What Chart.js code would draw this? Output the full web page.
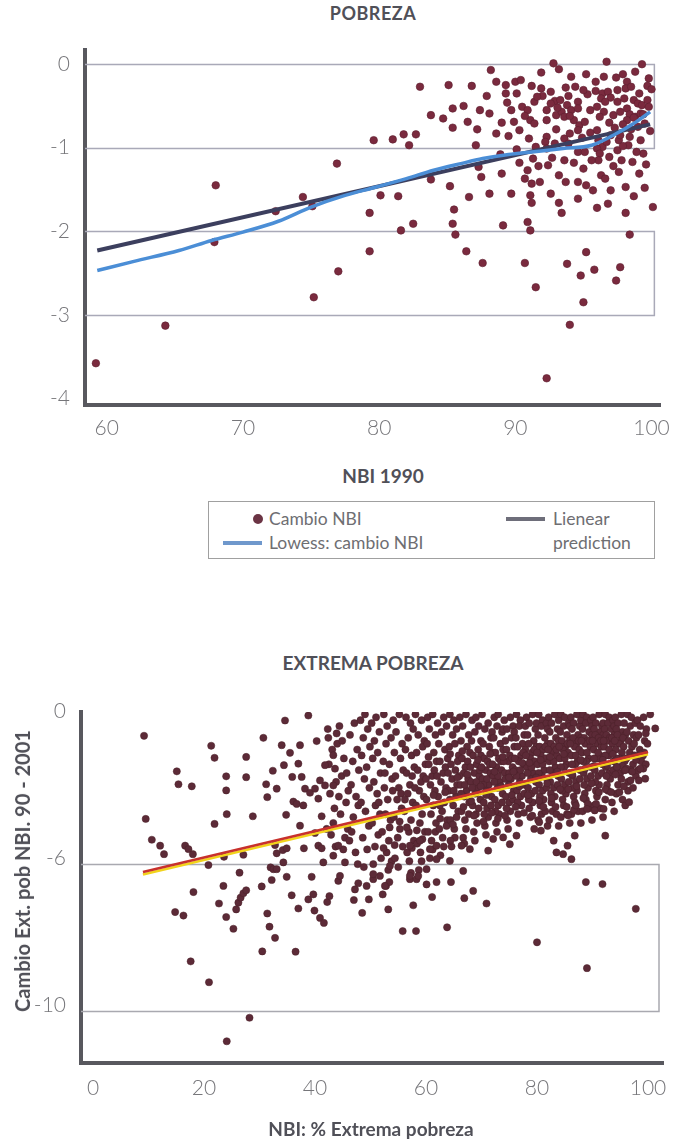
<!DOCTYPE html>
<html lang="es">
<head>
<meta charset="utf-8">
<title>Cambio NBI 1990 - 2001</title>
<script src="https://cdn.jsdelivr.net/npm/chart.js@4.4.1/dist/chart.umd.min.js"></script>
<style>
  html, body { margin: 0; padding: 0; background: #fff; }
  body { width: 681px; height: 1143px; position: relative; overflow: hidden;
         font-family: Lato, "Open Sans", sans-serif; color: #4a4a52; }
  canvas { position: absolute; left: 0; }
  #cTop { top: 0; }
  #cExt { top: 640px; }
  .ttl { position: absolute; transform: translate(-50%, -50%); white-space: nowrap;
         font-weight: 700; color: #505058; }
  #legend { position: absolute; left: 208px; top: 501px; width: 447px; height: 58px;
            border: 1px solid #a0a0a0; box-sizing: border-box; }
  .lg { position: absolute; font-size: 17.5px; color: #6e6e72; white-space: nowrap;
        transform: translateY(-50%); line-height: 1; }
  .sw { position: absolute; height: 4px; transform: translateY(-50%); }
  .dot { position: absolute; width: 10px; height: 10px; border-radius: 50%;
         background: #6b3444; transform: translate(-50%, -50%); }
  #ytitle { position: absolute; left: 22px; top: 871px; transform: translate(-50%, -50%) rotate(-90deg);
            white-space: nowrap; font-size: 20px; font-weight: 700; color: #505058; }
</style>
</head>
<body>
<div class="ttl" style="left:373px;top:13px;font-size:18px;letter-spacing:0.5px">POBREZA</div>
<canvas id="cTop" width="681" height="445"></canvas>
<div class="ttl" style="left:383px;top:475px;font-size:19px">NBI 1990</div>

<div id="legend">
  <div class="dot" style="left:49px;top:17px"></div>
  <div class="lg" style="left:60px;top:17px">Cambio NBI</div>
  <div class="sw" style="left:14px;top:41px;width:39px;background:#6f98cc"></div>
  <div class="lg" style="left:60px;top:41px">Lowess: cambio NBI</div>
  <div class="sw" style="left:297px;top:17px;width:39px;background:#6e6e7a"></div>
  <div class="lg" style="left:344px;top:17px">Lienear</div>
  <div class="lg" style="left:344px;top:41px">prediction</div>
</div>

<div class="ttl" style="left:373px;top:662px;font-size:19px">EXTREMA POBREZA</div>
<canvas id="cExt" width="681" height="503"></canvas>
<div id="ytitle">Cambio Ext. pob NBI. 90 - 2001</div>
<div class="ttl" style="left:371px;top:1128px;font-size:19px">NBI: % Extrema pobreza</div>

<script>
// ---------- Pobreza: NBI 1990 vs. cambio NBI ----------
const topXTicks = [60, 70, 80, 90, 100];
const topYTicks = [0, -1, -2, -3, -4];
const topYLabels = ['0', '-1', '-2', '-3', '-4'];
const topBands = [[0, -1], [-2, -3]];

const nbiChange = [
  [92.8,0.01],[93.2,-0.06],[96.7,0.03],[99.3,0.0],[88.2,-0.07],[98.8,-0.09],[99.8,-0.17],[99.7,-0.26],
  [97.4,-0.16],[83.0,-0.27],[85.1,-0.25],[86.8,-0.26],[89.3,-0.25],[90.0,-0.21],[90.4,-0.19],[91.2,-0.26],
  [91.9,-0.29],[92.6,-0.33],[95.9,-0.21],[95.9,-0.32],[98.2,-0.21],[98.1,-0.29],[97.5,-0.31],[87.9,-0.38],
  [89.3,-0.35],[90.1,-0.35],[91.4,-0.45],[92.9,-0.44],[93.3,-0.43],[94.6,-0.45],[95.3,-0.36],[96.4,-0.35],
  [96.8,-0.33],[97.0,-0.40],[96.3,-0.41],[96.6,-0.45],[97.5,-0.45],[98.0,-0.41],[98.7,-0.43],[99.0,-0.47],
  [99.3,-0.49],[99.7,-0.43],[99.8,-0.51],[90.5,-0.51],[90.9,-0.55],[89.7,-0.55],[86.2,-0.50],[85.4,-0.53],
  [83.8,-0.61],[84.7,-0.65],[85.4,-0.76],[88.1,-0.59],[89.0,-0.70],[89.9,-0.69],[90.3,-0.79],[91.1,-0.67],
  [91.4,-0.71],[92.3,-0.55],[92.3,-0.67],[93.0,-0.61],[93.4,-0.57],[93.8,-0.49],[94.1,-0.55],[94.6,-0.53],
  [93.6,-0.63],[94.3,-0.67],[94.7,-0.73],[95.1,-0.69],[96.0,-0.51],[96.5,-0.57],[97.2,-0.61],[97.7,-0.57],
  [98.2,-0.53],[98.4,-0.60],[98.8,-0.63],[99.2,-0.59],[98.2,-0.67],[98.7,-0.64],[99.4,-0.60],[87.2,-0.78],
  [87.1,-0.97],[88.6,-0.83],[89.5,-0.86],[91.0,-0.89],[92.3,-0.87],[92.2,-0.93],[92.9,-0.95],[93.6,-0.89],
  [94.0,-0.83],[94.6,-0.79],[96.0,-0.79],[96.1,-0.91],[96.4,-0.99],[96.7,-0.93],[97.0,-0.85],[97.6,-0.91],
  [97.7,-0.85],[98.4,-0.87],[98.3,-0.97],[99.2,-0.91],[79.6,-0.91],[81.0,-0.90],[81.8,-0.84],[82.2,-0.97],
  [82.7,-0.84],[91.5,-0.99],[92.3,-1.01],[94.6,-1.05],[95.1,-1.05],[96.0,-1.01],[96.2,-1.07],[96.9,-1.11],
  [97.5,-1.03],[99.4,-1.07],[87.3,-1.23],[87.5,-1.35],[89.0,-1.31],[90.3,-1.18],[90.9,-1.27],[90.7,-1.37],
  [91.2,-1.43],[91.3,-1.13],[91.8,-1.41],[92.4,-1.21],[93.2,-1.33],[93.7,-1.41],[93.6,-1.15],[94.3,-1.18],
  [94.6,-1.41],[94.6,-1.61],[95.2,-1.45],[95.7,-1.51],[96.1,-1.15],[96.3,-1.33],[96.6,-1.37],[97.0,-1.51],
  [96.8,-1.67],[97.6,-1.29],[97.8,-1.15],[98.1,-1.47],[99.1,-1.31],[83.8,-1.38],[85.2,-1.46],[86.6,-1.59],
  [88.1,-1.55],[91.1,-1.57],[91.2,-1.66],[80.1,-1.57],[81.4,-1.58],[79.3,-1.78],[85.5,-1.74],[93.4,-1.78],
  [98.1,-1.78],[100.1,-1.71],[82.5,-1.91],[81.6,-1.99],[85.4,-1.91],[85.6,-2.04],[89.1,-1.93],[90.9,-1.89],
  [91.1,-1.99],[98.4,-2.04],[79.3,-2.24],[86.4,-2.24],[87.6,-2.38],[90.7,-2.38],[91.5,-2.67],[92.3,-3.76],
  [93.8,-2.39],[94.0,-3.12],[94.8,-2.53],[95.0,-2.85],[95.2,-2.25],[95.8,-2.46],[97.4,-2.59],[97.7,-2.43],
  [68.0,-1.45],[72.4,-1.76],[74.4,-1.59],[75.1,-1.70],[76.9,-1.19],[59.2,-3.58],[64.3,-3.13],[67.9,-2.13],
  [75.2,-2.79],[77.0,-2.48],
  [92.0,-0.38],[92.6,-0.47],[93.1,-0.52],[93.9,-0.38],[94.4,-0.27],[95.0,-0.31],[95.5,-0.55],[96.2,-0.63],
  [96.9,-0.70],[97.3,-0.76],[97.9,-0.72],[98.5,-0.78],[99.0,-0.75],[99.5,-0.71],[99.1,-0.35],[98.5,-0.27],
  [97.9,-0.12],[95.2,-0.12],[94.1,-0.15],[93.7,-0.28],[91.6,-0.39],[90.7,-0.62],[89.4,-0.46],[88.6,-0.21],
  [87.4,-0.55],[86.5,-0.69],[93.0,-0.78],[93.9,-0.95],[94.9,-0.88],[95.5,-0.82],[95.6,-1.15],[95.0,-1.25],
  [97.2,-1.22],[98.6,-1.17],[99.6,-1.20],[98.9,-1.05],[97.9,-0.98],[92.7,-1.12],[91.7,-1.22],[90.1,-1.02],
  [88.9,-1.08],[89.7,-1.55],[92.6,-1.55],[93.2,-1.66],[96.0,-1.72],[98.7,-1.58],[99.5,-1.48],[99.9,-0.80],
  [100.0,-0.30],[96.5,-0.15],[94.0,-0.62],[91.9,-0.10]
];

const lowessNbi = [
  [59.3,-2.47],[62.0,-2.36],[65.3,-2.23],[67.7,-2.11],[70.0,-2.01],[72.6,-1.88],[75.0,-1.71],[77.5,-1.57],
  [79.8,-1.47],[82.0,-1.37],[84.0,-1.27],[86.0,-1.19],[87.6,-1.13],[89.5,-1.08],[91.2,-1.05],[93.5,-1.01],
  [95.6,-0.97],[97.2,-0.85],[98.6,-0.72],[99.9,-0.57]
];
const linearNbi = [[59.3,-2.23],[99.9,-0.72]];

// ---------- Extrema pobreza ----------
const extXTicks = [0, 20, 40, 60, 80, 100];
const extYTicks = [0, -5, -10];
const extYLabels = ['0', '-6', '-10'];
const extBands = [[-5, -10]];

const extSparse = [
  [9.2,-0.63],[9.5,-3.46],[10.6,-4.17],[12.1,-4.37],[12.8,-4.66],[15.1,-1.84],[15.4,-2.28],[17.8,-2.35],
  [16.6,-4.37],[17.2,-4.49],[18.0,-4.66],[18.1,-5.95],[20.8,-5.03],[21.3,-0.97],[21.9,-1.38],[21.9,-3.63],
  [23.6,-4.75],[23.5,-5.74],[24.0,-2.01],[24.0,-2.49],[24.1,-3.30],[26.4,-5.29],[27.6,-1.35],[27.6,-2.04],
  [27.1,-4.68],[28.8,-3.37],[30.7,-0.70],[31.2,-2.28],[31.4,-2.72],[32.4,-1.82],[33.1,-2.43],[30.4,-5.76],
  [32.0,-5.11],[32.5,-5.17],[33.1,-5.17],[32.2,-5.54],[32.8,-4.35],[33.1,-4.63],[34.0,-0.95],[34.4,-1.63],
  [34.6,-0.11],[34.8,-3.32],[34.2,-4.52],[34.9,-4.46],[34.3,-4.94],[34.9,-5.43],[35.5,-1.21],[35.9,-2.03],
  [36.1,-2.87],[37.0,-1.58],[37.3,-0.95],[37.6,-2.03],[36.7,-2.95],[38.8,0.06],[38.2,-2.43],[39.1,-2.57],
  [37.9,-3.0],[37.3,-3.69],[38.0,-4.46],[39.4,-5.43],[40.3,-0.81],[41.8,-1.63],[40.9,-2.15],[41.8,-2.32],
  [40.0,-2.43],[40.6,-2.77],[41.2,-3.37],[42.1,-3.80],[40.6,-4.37],[41.2,-4.46],[40.0,-3.94],[41.5,-4.94],
  [42.4,-0.70],[43.9,-0.55],[43.3,-1.29],[43.6,-1.75],[43.3,-2.32],
  [14.8,-6.63],[16.3,-6.75],[17.6,-8.31],[20.9,-9.02],[22.7,-6.34],[24.0,-6.80],[25.3,-7.20],[25.8,-6.54],
  [26.2,-6.31],[26.6,-6.14],[27.1,-5.99],[27.6,-5.89],[28.2,-10.23],[24.1,-11.03],[30.5,-7.97],[31.4,-6.68],
  [31.8,-7.13],[32.8,-7.51],[35.8,-6.06],[37.0,-6.51],[36.5,-7.98],[38.8,-6.20],[39.7,-6.03],[39.9,-6.58],
  [40.9,-6.83],[41.6,-7.0],[42.2,-6.29],[42.6,-6.09],[44.2,-5.57],
  [47.0,-6.22],[47.8,-5.65],[48.5,-6.66],[49.7,-6.20],[50.5,-5.51],[52.2,-6.03],[52.8,-5.74],[53.4,-5.61],
  [53.2,-6.54],[55.8,-7.28],[58.2,-7.28],[57.7,-6.40],[57.1,-5.51],[58.3,-5.51],[60.1,-5.69],[61.9,-5.61],
  [61.1,-6.12],[63.8,-7.15],[64.5,-5.61],[66.9,-6.16],[68.5,-5.91],[70.9,-6.34],[80.0,-7.66],[88.8,-5.61],
  [91.8,-5.68],[89.0,-8.54],[97.8,-6.52],
  [86.2,-4.83],[83.5,-4.60],[84.7,-4.66],[85.5,-4.37],[83.0,-4.20],[86.8,-4.03],[92.3,-4.03],[96.6,-2.89],
  [99.5,-2.09],[98.6,-1.75],[95.9,-1.80],[94.4,-1.69],[100.4,0.1],[101.3,-0.38],[99.6,-0.55],[92.0,-3.12],
  [90.4,-3.17],[89.0,-3.12],[87.0,-3.0],[85.6,-3.34],[80.7,-3.86],[79.5,-3.80],[80.4,-3.57],[75.1,-4.32],
  [76.3,-4.03],[73.9,-4.09],[72.1,-4.14],[71.2,-4.54],[67.9,-4.49],[66.4,-4.37],[64.4,-4.20],[61.9,-4.37],
  [60.7,-4.49],[58.9,-4.20],[57.1,-4.37],[57.1,-5.40],[58.6,-5.40],[61.9,-4.83],[60.1,-5.17],[64.3,-4.89],
  [66.7,-5.23],[53.5,-5.06],[51.7,-5.40],[52.6,-5.74],[47.2,-5.86],[49.3,-5.74],[50.5,-5.34],[44.5,-5.40],
  [45.4,-4.94],[43.3,-4.71],[44.2,-4.37]
];

const extCloud = [
  [42.3,-0.4],[43.1,-1.1],[42.7,-2.6],[43.5,-3.1],[42.9,-4.0],[43.8,-2.2],[43.3,-3.6],[44.0,-0.9],[43.7,-4.4],[42.5,-1.6],
  [44.4,-0.3],[45.2,-1.4],[44.8,-2.0],[45.6,-2.9],[44.6,-3.3],[45.9,-3.8],[45.1,-4.5],[44.9,-0.8],[45.7,-1.9],[46.0,-2.5],[44.3,-2.7],[45.4,-4.1],
  [46.3,-0.6],[47.1,-0.2],[46.8,-1.5],[47.6,-1.1],[46.5,-2.3],[47.4,-2.7],[46.9,-3.4],[47.8,-3.0],[46.2,-4.2],[47.3,-4.6],[47.9,-1.8],[46.6,-3.9],[47.7,-5.0],
  [48.2,-0.1],[49.0,0.1],[48.7,-0.7],[49.5,-0.4],[48.4,-1.3],[49.3,-1.7],[48.9,-2.1],[49.8,-2.4],[48.3,-2.9],[49.1,-3.2],[49.7,-3.7],[48.6,-4.1],[49.4,-4.5],[48.8,-5.1],[49.9,-1.0],
  [50.2,-0.2],[51.0,0.0],[50.7,-0.8],[51.6,-0.5],[50.4,-1.4],[51.3,-1.2],[51.8,-1.9],[50.6,-2.2],[51.2,-2.6],[50.9,-3.0],[51.7,-3.3],[50.3,-3.6],[51.4,-4.0],[50.8,-4.4],[51.9,-4.8],[50.5,-5.0],[51.5,-2.9],
  [52.4,0.1],[53.0,-0.3],[52.8,-0.9],[53.7,-0.7],[52.3,-1.5],[53.4,-1.6],[53.9,-2.1],[52.5,-2.4],[53.1,-2.8],[52.7,-3.3],[53.6,-3.5],[52.1,-3.9],[53.3,-4.2],[52.9,-4.6],[53.8,-4.9],[52.6,-1.9],[53.2,-5.2],
  [54.1,-0.1],[55.2,0.1],[54.6,-0.5],[55.7,-0.9],[54.3,-1.2],[55.4,-1.4],[55.9,-1.8],[54.5,-2.0],[55.1,-2.4],[54.8,-2.8],[55.6,-3.1],[54.2,-3.4],[55.3,-3.8],[54.9,-4.1],[55.8,-4.4],[54.4,-4.8],[55.0,-5.1],[55.5,-2.6],[54.0,-2.5],
  [56.4,0.0],[57.2,-0.2],[56.8,-0.7],[57.7,-0.4],[56.3,-1.1],[57.4,-1.3],[57.9,-1.7],[56.5,-1.9],[57.1,-2.3],[56.7,-2.6],[57.6,-2.9],[56.1,-3.2],[57.3,-3.5],[56.9,-3.9],[57.8,-4.2],[56.6,-4.6],[57.0,-4.9],[57.5,-2.0],[56.2,-2.8],[57.3,-5.3],
  [58.1,0.1],[59.2,-0.1],[58.6,-0.6],[59.7,-0.8],[58.3,-1.2],[59.4,-1.0],[59.9,-1.6],[58.5,-1.8],[59.1,-2.2],[58.8,-2.5],[59.6,-2.7],[58.2,-3.0],[59.3,-3.3],[58.9,-3.6],[59.8,-3.9],[58.4,-4.3],[59.0,-4.6],[59.5,-2.0],[58.0,-2.4],[59.2,-4.9],[58.7,-5.2],
  [60.3,0.0],[61.2,0.1],[60.6,-0.4],[61.7,-0.6],[60.2,-0.9],[61.4,-1.2],[61.9,-1.5],[60.5,-1.6],[61.1,-2.0],[60.8,-2.3],[61.6,-2.5],[60.1,-2.8],[61.3,-3.0],[60.9,-3.3],[61.8,-3.6],[60.4,-3.9],[61.0,-4.2],[61.5,-1.8],[60.0,-2.1],[61.2,-4.5],[60.7,-4.8],[61.7,-3.9],
  [62.1,-0.2],[63.2,0.0],[62.8,-0.5],[63.7,-0.3],[62.3,-0.9],[63.4,-1.1],[63.9,-1.4],[62.5,-1.5],[63.1,-1.9],[62.7,-2.2],[63.6,-2.4],[62.2,-2.7],[63.3,-2.9],[62.9,-3.2],[63.8,-3.5],[62.4,-3.8],[63.0,-4.1],[63.5,-1.7],[62.0,-2.0],[63.2,-4.4],[62.6,-4.7],[63.7,-3.7],[62.5,-3.0],
  [64.3,0.1],[65.0,-0.1],[64.8,-0.6],[65.5,-0.4],[64.2,-1.0],[65.2,-0.9],[65.9,-1.3],[64.5,-1.6],[65.3,-1.8],[64.7,-2.1],[65.6,-2.3],[64.1,-2.5],[65.4,-2.7],[64.9,-3.0],[65.8,-3.2],[64.4,-3.5],[65.1,-3.8],[65.7,-1.5],[64.0,-1.9],[65.2,-4.1],[64.6,-4.4],[65.5,-3.4],[64.3,-2.8],[65.0,-2.5],
  [66.1,0.0],[67.2,0.1],[66.6,-0.3],[67.7,-0.6],[66.3,-0.8],[67.4,-1.0],[67.9,-1.2],[66.5,-1.4],[67.1,-1.7],[66.8,-1.9],[67.6,-2.1],[66.2,-2.3],[67.3,-2.5],[66.9,-2.7],[67.8,-2.9],[66.4,-3.2],[67.0,-3.5],[67.5,-1.5],[66.0,-2.0],[67.2,-3.8],[66.7,-4.1],[67.7,-3.3],[66.3,-2.6],[67.0,-2.3],[66.9,-4.3],
  [68.3,-0.1],[69.0,0.0],[68.8,-0.5],[69.5,-0.3],[68.2,-0.8],[69.4,-1.1],[69.9,-1.3],[68.5,-1.3],[69.1,-1.6],[68.7,-1.9],[69.6,-2.0],[68.1,-2.2],[69.3,-2.4],[68.9,-2.6],[69.8,-2.8],[68.4,-3.0],[69.0,-3.3],[69.7,-1.8],[68.0,-1.7],[69.2,-3.6],[68.6,-3.9],[69.5,-3.1],[68.3,-2.4],[69.1,-2.2],[68.8,-4.2],[69.9,-0.8],
  [70.1,0.1],[71.2,-0.2],[70.6,-0.4],[71.7,-0.7],[70.3,-0.9],[71.4,-1.0],[71.9,-1.2],[70.5,-1.4],[71.1,-1.5],[70.8,-1.8],[71.6,-1.9],[70.2,-2.1],[71.3,-2.3],[70.9,-2.5],[71.8,-2.7],[70.4,-2.9],[71.0,-3.1],[71.5,-1.6],[70.0,-1.7],[71.2,-3.4],[70.6,-3.7],[71.7,-3.0],[70.3,-2.3],[71.0,-2.1],[70.8,-4.0],[71.9,-0.5],[70.5,-3.3],
  [72.3,0.0],[73.0,0.1],[72.8,-0.3],[73.7,-0.5],[72.2,-0.7],[73.4,-0.9],[73.9,-1.1],[72.5,-1.2],[73.1,-1.4],[72.7,-1.7],[73.6,-1.8],[72.1,-2.0],[73.3,-2.2],[72.9,-2.4],[73.8,-2.6],[72.4,-2.8],[73.0,-3.0],[73.5,-1.5],[72.0,-1.6],[73.2,-3.3],[72.6,-3.6],[73.7,-2.9],[72.3,-2.2],[73.0,-2.0],[72.8,-3.9],[73.9,-0.4],[72.5,-3.2],
  [74.1,-0.1],[75.2,0.0],[74.6,-0.4],[75.7,-0.3],[74.3,-0.8],[75.4,-0.7],[75.9,-1.0],[74.5,-1.1],[75.1,-1.3],[74.8,-1.5],[75.6,-1.7],[74.2,-1.9],[75.3,-2.1],[74.9,-2.3],[75.8,-2.5],[74.4,-2.7],[75.0,-2.9],[75.5,-1.4],[74.0,-1.5],[75.2,-3.2],[74.6,-3.5],[75.7,-2.8],[74.3,-2.1],[75.0,-1.9],[74.8,-3.8],[75.9,-0.5],[74.5,-3.1],
  [76.3,0.1],[77.0,-0.1],[76.8,-0.3],[77.7,-0.6],[76.2,-0.7],[77.4,-0.9],[77.9,-1.1],[76.5,-1.0],[77.1,-1.3],[76.7,-1.5],[77.6,-1.6],[76.1,-1.8],[77.3,-2.0],[76.9,-2.2],[77.8,-2.3],[76.4,-2.5],[77.0,-2.7],[77.5,-1.2],[76.0,-1.4],[77.2,-3.0],[76.6,-3.3],[77.7,-2.6],[76.3,-2.0],[77.0,-1.8],[76.8,-3.6],[77.9,-0.3],[76.5,-2.9],
  [78.1,0.0],[79.2,0.1],[78.6,-0.2],[79.7,-0.4],[78.3,-0.6],[79.4,-0.8],[79.9,-1.0],[78.5,-0.9],[79.1,-1.2],[78.8,-1.4],[79.6,-1.5],[78.2,-1.7],[79.3,-1.9],[78.9,-2.1],[79.8,-2.2],[78.4,-2.4],[79.0,-2.6],[79.5,-1.1],[78.0,-1.3],[79.2,-2.9],[78.6,-3.1],[79.7,-2.5],[78.3,-1.9],[79.0,-1.7],[78.8,-3.4],[79.9,-0.2],[78.5,-2.8],
  [80.3,0.1],[81.0,-0.1],[80.8,-0.3],[81.7,-0.2],[80.2,-0.6],[81.4,-0.7],[81.9,-0.9],[80.5,-1.0],[81.1,-1.1],[80.7,-1.3],[81.6,-1.4],[80.1,-1.6],[81.3,-1.8],[80.9,-2.0],[81.8,-2.1],[80.4,-2.3],[81.0,-2.5],[81.5,-1.0],[80.0,-1.2],[81.2,-2.8],[80.6,-3.0],[81.7,-2.4],[80.3,-1.9],[81.0,-1.6],[80.8,-3.3],[81.9,-0.4],[80.5,-2.7],[80.2,-3.5],[81.5,-3.2],[81.9,-3.7],
  [82.1,0.0],[83.2,0.1],[82.6,-0.2],[83.7,-0.4],[82.3,-0.5],[83.4,-0.7],[83.9,-0.8],[82.5,-0.9],[83.1,-1.0],[82.8,-1.2],[83.6,-1.3],[82.2,-1.5],[83.3,-1.7],[82.9,-1.9],[83.8,-2.0],[82.4,-2.2],[83.0,-2.4],[83.5,-1.1],[82.0,-1.1],[83.2,-2.7],[82.6,-2.9],[83.7,-2.3],[82.3,-1.8],[83.0,-1.5],[82.8,-3.2],[83.9,-0.1],[82.5,-2.6],[82.2,-3.5],[83.5,-3.3],[83.9,-3.7],
  [84.3,0.1],[85.0,0.0],[84.8,-0.3],[85.7,-0.2],[84.2,-0.5],[85.4,-0.6],[85.9,-0.8],[84.5,-0.8],[85.1,-1.0],[84.7,-1.1],[85.6,-1.2],[84.1,-1.4],[85.3,-1.6],[84.9,-1.7],[85.8,-1.9],[84.4,-2.1],[85.0,-2.3],[85.5,-0.9],[84.0,-1.0],[85.2,-2.6],[84.6,-2.8],[85.7,-2.2],[84.3,-1.7],[85.0,-1.4],[84.8,-3.0],[85.9,-0.3],[84.5,-2.5],[84.3,-3.4],[85.4,-3.3],[85.9,-3.6],
  [86.1,0.0],[87.2,0.1],[86.6,-0.2],[87.7,-0.3],[86.3,-0.4],[87.4,-0.6],[87.9,-0.7],[86.5,-0.7],[87.1,-0.9],[86.8,-1.0],[87.6,-1.1],[86.2,-1.3],[87.3,-1.5],[86.9,-1.6],[87.8,-1.8],[86.4,-2.0],[87.0,-2.2],[87.5,-0.8],[86.0,-0.9],[87.2,-2.5],[86.6,-2.7],[87.7,-2.1],[86.3,-1.6],[87.0,-1.3],[86.8,-2.9],[87.9,-0.1],[86.5,-2.4],[86.2,-3.3],[87.4,-3.2],[87.9,-3.6],
  [88.3,0.1],[89.0,0.0],[88.8,-0.2],[89.7,-0.1],[88.2,-0.4],[89.4,-0.5],[89.9,-0.6],[88.5,-0.7],[89.1,-0.8],[88.7,-0.9],[89.6,-1.0],[88.1,-1.2],[89.3,-1.4],[88.9,-1.5],[89.8,-1.7],[88.4,-1.9],[89.0,-2.1],[89.5,-0.8],[88.0,-0.8],[89.2,-2.4],[88.6,-2.6],[89.7,-2.0],[88.3,-1.5],[89.0,-1.2],[88.8,-2.8],[89.9,-0.3],[88.5,-2.3],[88.2,-3.2],[89.4,-3.1],[89.9,-3.5],
  [90.1,0.0],[91.2,0.1],[90.6,-0.2],[91.7,-0.3],[90.3,-0.4],[91.4,-0.5],[91.9,-0.6],[90.5,-0.6],[91.1,-0.7],[90.8,-0.9],[91.6,-1.0],[90.2,-1.1],[91.3,-1.3],[90.9,-1.4],[91.8,-1.6],[90.4,-1.8],[91.0,-2.0],[91.5,-0.8],[90.0,-0.8],[91.2,-2.3],[90.6,-2.5],[91.7,-1.9],[90.3,-1.4],[91.0,-1.2],[90.8,-2.7],[91.9,-0.2],[90.5,-2.2],[90.3,-3.0],[91.4,-3.1],[91.9,-3.4],
  [92.3,0.1],[93.0,0.0],[92.8,-0.2],[93.7,-0.1],[92.2,-0.4],[93.4,-0.4],[93.9,-0.6],[92.5,-0.6],[93.1,-0.7],[92.7,-0.8],[93.6,-0.9],[92.1,-1.0],[93.3,-1.2],[92.9,-1.3],[93.8,-1.5],[92.4,-1.7],[93.0,-1.9],[93.5,-0.7],[92.0,-0.8],[93.2,-2.1],[92.6,-2.3],[93.7,-1.8],[92.3,-1.3],[93.0,-1.1],[92.8,-2.5],[93.9,-0.3],[92.5,-2.0],[92.3,-2.8],[93.5,-2.9],[93.9,-3.2],
  [94.1,0.0],[95.2,0.1],[94.6,-0.2],[95.7,-0.2],[94.3,-0.4],[95.4,-0.5],[95.9,-0.6],[94.5,-0.6],[95.1,-0.8],[94.8,-0.9],[95.6,-1.0],[94.2,-1.1],[95.3,-1.2],[94.9,-1.4],[95.8,-1.5],[94.4,-1.7],[95.0,-1.9],[95.5,-0.7],[94.0,-0.8],[95.2,-2.1],[94.6,-2.3],[95.7,-1.8],[94.3,-1.4],[94.3,-2.6],[95.4,-2.8],[95.9,-3.0],
  [96.3,0.1],[97.0,0.0],[96.8,-0.3],[97.7,-0.2],[96.2,-0.5],[97.4,-0.6],[97.9,-0.7],[96.5,-0.8],[97.1,-1.0],[96.7,-1.2],[97.6,-1.3],[96.1,-1.4],[97.3,-1.6],[96.9,-1.8],[97.8,-2.0],[96.4,-2.2],[97.5,-0.9],[96.4,-2.5],[97.3,-2.4],
  [98.1,-0.1],[99.2,0.0],[98.6,-0.3],[99.7,-0.4],[98.3,-0.6],[99.4,-0.8],[99.9,-0.9],[98.5,-1.1],[99.1,-1.3],[98.8,-1.5],[99.6,-1.6],[98.2,-1.8],[99.3,-1.2]
];

// denser core of the cloud
const extCore = [
  [60.45,-1.35],[61.35,-2.65],[62.55,-3.45],[63.45,-2.55],[64.35,-1.25],[64.85,-3.65],[65.65,-2.05],[66.55,-1.15],
  [66.75,-3.05],[67.45,-1.95],[68.15,-2.85],[68.65,-3.35],[69.35,-1.45],[69.85,-2.35],[70.35,-3.55],[70.85,-2.65],
  [71.55,-1.25],[71.85,-3.25],[72.35,-1.85],[72.95,-3.45],[73.55,-2.35],[73.85,-1.35],[74.25,-3.35],[74.95,-2.05],
  [75.45,-2.65],[75.75,-1.85],[76.15,-3.05],[76.85,-2.35],[77.35,-1.55],[77.65,-3.25],[78.35,-2.65],[78.65,-1.55],
  [79.15,-3.35],[79.85,-2.05],[80.35,-2.85],[80.65,-1.45],[81.15,-3.05],[81.85,-2.25],[82.35,-1.35],[82.65,-2.75],
  [83.35,-3.05],[83.65,-1.85],[84.15,-2.45],[84.85,-1.25],[85.35,-3.05],[85.65,-2.45],[86.35,-1.95],[86.65,-3.15],
  [87.15,-2.35],[87.85,-1.45],[88.35,-2.75],[88.65,-1.75],[89.15,-2.95],[89.85,-2.25],[90.35,-1.65],[90.65,-2.95],
  [91.15,-2.55],[91.85,-1.45],[92.35,-2.45],[92.65,-1.65],[93.35,-2.55],[93.65,-1.25],[94.15,-1.95],[94.85,-2.55],
  [95.35,-1.65],[95.65,-2.35],[96.15,-1.75],[96.85,-2.15],[97.15,-1.85],[97.85,-1.45],[98.35,-2.15],[98.65,-1.25],
  [99.15,-1.75],[56.55,-3.75],[57.45,-4.45],[58.35,-3.85],[59.35,-4.15],[55.25,-3.55],[54.35,-4.35],[53.45,-3.75],
  [52.35,-4.45]
];

const extFitRed = [[9.0,-5.27],[100,-1.18]];
const extFitYellow = [[9.0,-5.35],[100,-1.26]];

// ---------- helpers ----------
const toXY = arr => arr.map(([x, y]) => ({ x, y }));

// Outlined reference bands: a horizontal line at each bound joined on the right edge.
const bandsPlugin = {
  id: 'bands',
  beforeDatasetsDraw(chart, args, opts) {
    const { ctx, chartArea, scales } = chart;
    const y = scales.y;
    const right = chartArea.right - (opts.inset || 0);
    ctx.save();
    ctx.strokeStyle = opts.color;
    ctx.lineWidth = opts.width;
    (opts.bands || []).forEach(([a, b]) => {
      const ya = Math.round(y.getPixelForValue(a)) + 0.5;
      const yb = Math.round(y.getPixelForValue(b)) + 0.5;
      ctx.beginPath();
      ctx.moveTo(chartArea.left, ya);
      ctx.lineTo(right, ya);
      ctx.lineTo(right, yb);
      ctx.lineTo(chartArea.left, yb);
      ctx.stroke();
    });
    ctx.restore();
  }
};

const tickFont = { family: 'Lato, "Open Sans", sans-serif', size: 21, weight: '300' };
const tickColor = '#76767a';
const axisColor = '#58585e';

function axisX(min, max, ticks, height, pad) {
  return {
    type: 'linear', min, max,
    afterBuildTicks: s => { s.ticks = ticks.map(v => ({ value: v })); },
    afterFit: s => { s.height = height; },
    grid: { display: false, drawTicks: false },
    border: { display: true, color: axisColor, width: 4 },
    ticks: { color: tickColor, font: tickFont, padding: pad, maxRotation: 0, autoSkip: false,
             callback: v => String(v) }
  };
}
function axisY(min, max, ticks, labels, width, labelOffset) {
  return {
    type: 'linear', min, max,
    afterBuildTicks: s => { s.ticks = ticks.map(v => ({ value: v })); },
    afterFit: s => { s.width = width; },
    grid: { display: false, drawTicks: false },
    border: { display: true, color: axisColor, width: 4 },
    ticks: { color: tickColor, font: tickFont, padding: 15, labelOffset, autoSkip: false,
             callback: v => labels[ticks.indexOf(v)] }
  };
}

Chart.defaults.animation = false;

new Chart(document.getElementById('cTop'), {
  type: 'scatter',
  data: {
    datasets: [
      { type: 'line', label: 'Lowess: cambio NBI', data: toXY(lowessNbi), borderColor: '#4b8ed6',
        borderWidth: 3.5, pointRadius: 0, cubicInterpolationMode: 'monotone', fill: false, order: 1 },
      { type: 'line', label: 'Lienear prediction', data: toXY(linearNbi), borderColor: '#3c3f5e',
        borderWidth: 4, pointRadius: 0, fill: false, order: 2 },
      { label: 'Cambio NBI', data: toXY(nbiChange), backgroundColor: '#7a2a3e', borderColor: '#5e1f2f',
        borderWidth: 0.6, pointRadius: 3.8, order: 3 }
    ]
  },
  options: {
    responsive: false,
    layout: { padding: { top: 50, right: 14, bottom: 0, left: 0 } },
    plugins: {
      legend: { display: false }, tooltip: { enabled: false },
      bands: { bands: topBands, color: '#a9a9b8', width: 1.5, inset: 6 }
    },
    scales: {
      x: axisX(58.4, 100.65, topXTicks, 40, 11),
      y: axisY(-4.08, 0.17, topYTicks, topYLabels, 85, 0)
    }
  },
  plugins: [bandsPlugin]
});

new Chart(document.getElementById('cExt'), {
  type: 'scatter',
  data: {
    datasets: [
      { type: 'line', label: 'Ajuste', data: toXY(extFitRed), borderColor: '#c8312c',
        borderWidth: 2.5, pointRadius: 0, fill: false, order: 1 },
      { type: 'line', label: 'Lowess', data: toXY(extFitYellow), borderColor: '#f2d31c',
        borderWidth: 2.5, pointRadius: 0, fill: false, order: 2 },
      { label: 'Cambio extrema pobreza', data: toXY(extCloud.concat(extCore, extSparse)), backgroundColor: '#5c2a37',
        borderColor: '#4a2029', borderWidth: 0.5, pointRadius: 3.6, order: 3 }
    ]
  },
  options: {
    responsive: false,
    layout: { padding: { top: 72, right: 18, bottom: 0, left: 0 } },
    plugins: {
      legend: { display: false }, tooltip: { enabled: false },
      bands: { bands: extBands, color: '#a9a9b0', width: 1.5, inset: 4 }
    },
    scales: {
      x: axisX(-2.16, 102.7, extXTicks, 80, 13),
      y: axisY(-11.77, 0.18, extYTicks, extYLabels, 81, -6)
    }
  },
  plugins: [bandsPlugin]
});
</script>
</body>
</html>
